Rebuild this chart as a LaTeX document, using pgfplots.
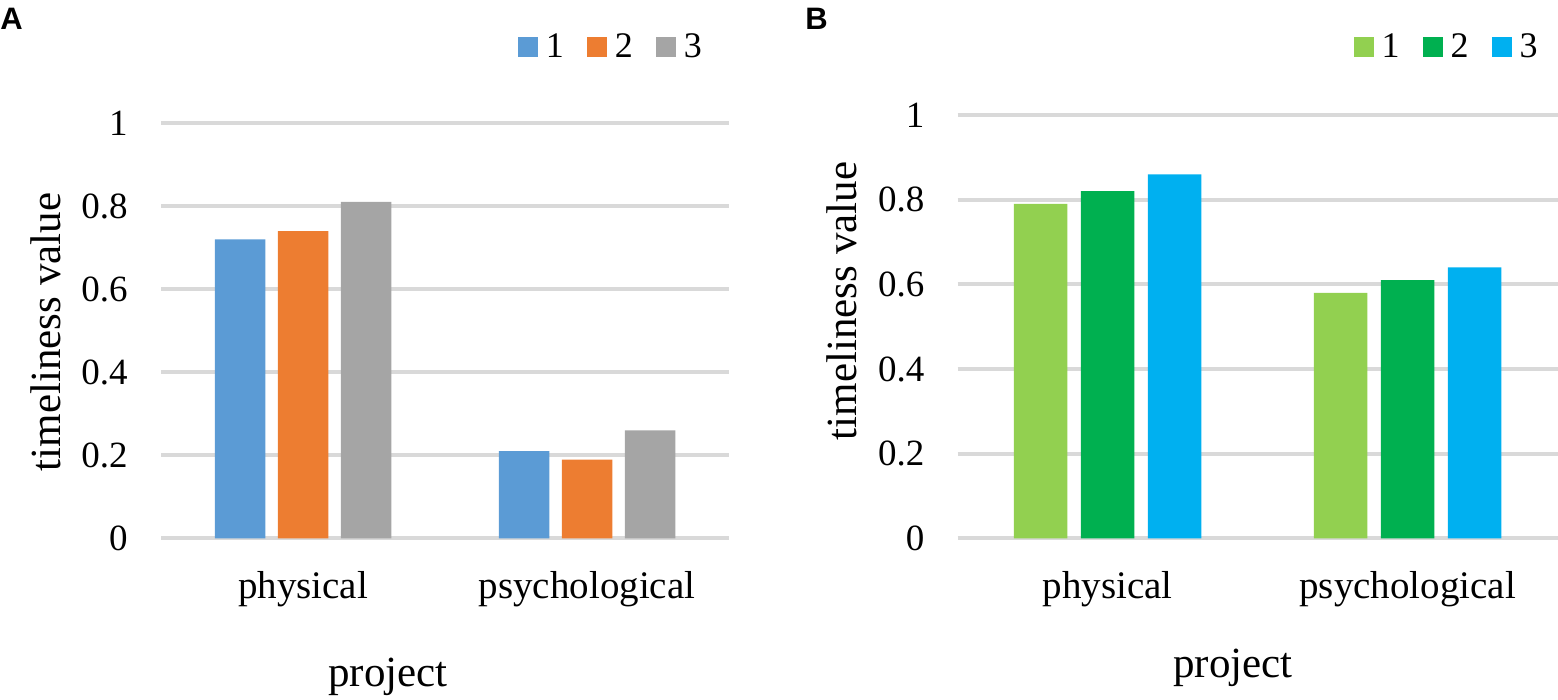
\documentclass[border=0pt]{standalone}
\usepackage{pgfplots}
\pgfplotsset{compat=1.18}
\usepackage{fontspec}
\setmainfont{Liberation Serif}
\newfontfamily\panelfont{Liberation Sans}
\definecolor{cA1}{HTML}{5B9BD5}
\definecolor{cA2}{HTML}{ED7D31}
\definecolor{cA3}{HTML}{A5A5A5}
\definecolor{cB1}{HTML}{92D050}
\definecolor{cB2}{HTML}{00B050}
\definecolor{cB3}{HTML}{00B0F0}
\definecolor{gridc}{HTML}{D9D9D9}
\pgfplotsset{
  common/.style={
    scale only axis,
    anchor=south west,
    ybar,
    xmin=-0.5, xmax=1.5,
    ymin=0, ymax=1,
    xtick={0,1},
    xticklabels={physical,psychological},
    ytick={0,0.2,0.4,0.6,0.8,1},
    yticklabels={0,0.2,0.4,0.6,0.8,1},
    axis line style={draw=none},
    major tick length=0pt,
    tick style={draw=none},
    ymajorgrids,
    grid style={line width=2pt, color=gridc},
    yticklabel style={font=\fontsize{18.5}{20}\selectfont, anchor=east, inner xsep=0pt, xshift=-16.5pt},
    xticklabel style={font=\fontsize{19.5}{22}\selectfont, anchor=base, yshift=-30pt},
    ylabel={timeliness value},
    xlabel={project},
    label style={font=\fontsize{21.5}{24}\selectfont},
    legend columns=-1,
    every axis plot/.append style={
      legend image code/.code={\fill[##1] (0pt,-5pt) rectangle (10pt,5pt);}},
    legend style={draw=none, fill=none, inner sep=0pt, anchor=east,
      font=\fontsize{18}{20}\selectfont,
      nodes={inner sep=0pt},
      /tikz/every odd column/.append style={column sep=4pt},
      /tikz/every even column/.append style={column sep=11.5pt}},
  }
}
\begin{document}
\begin{tikzpicture}
\useasboundingbox (0pt,0pt) rectangle (779pt,350pt);
\begin{axis}[common,
  at={(80.5pt,80.75pt)}, width=284pt, height=207.75pt,
  bar width=25.25pt, ybar=6.25pt,
  ylabel style={at={(axis description cs:-0.1778,0.497)}, anchor=base, rotate=0},
  xlabel style={at={(axis description cs:0.3996,-0.357)}, anchor=base},
  legend style={at={(axis description cs:0.953,1.183)}},
]
\addplot[fill=cA1, draw=none] coordinates {(0,0.72) (1,0.21)};
\addplot[fill=cA2, draw=none] coordinates {(0,0.74) (1,0.19)};
\addplot[fill=cA3, draw=none] coordinates {(0,0.81) (1,0.26)};
\legend{1,2,3}
\end{axis}
\begin{axis}[common,
  at={(478.85pt,80.75pt)}, width=300pt, height=211.75pt,
  bar width=26.75pt, ybar=6.75pt,
  ylabel style={at={(axis description cs:-0.168,0.561)}, anchor=base},
  xlabel style={at={(axis description cs:0.459,-0.329)}, anchor=base},
  legend style={at={(axis description cs:0.967,1.1606)}},
]
\addplot[fill=cB1, draw=none] coordinates {(0,0.79) (1,0.58)};
\addplot[fill=cB2, draw=none] coordinates {(0,0.82) (1,0.61)};
\addplot[fill=cB3, draw=none] coordinates {(0,0.86) (1,0.64)};
\legend{1,2,3}
\end{axis}
\node[anchor=base west, inner sep=0pt, font=\panelfont\bfseries\fontsize{15.5}{17}\selectfont] at (0pt,335pt) {A};
\node[anchor=base west, inner sep=0pt, font=\panelfont\bfseries\fontsize{15.5}{17}\selectfont] at (402.5pt,335pt) {B};
\end{tikzpicture}
\end{document}
